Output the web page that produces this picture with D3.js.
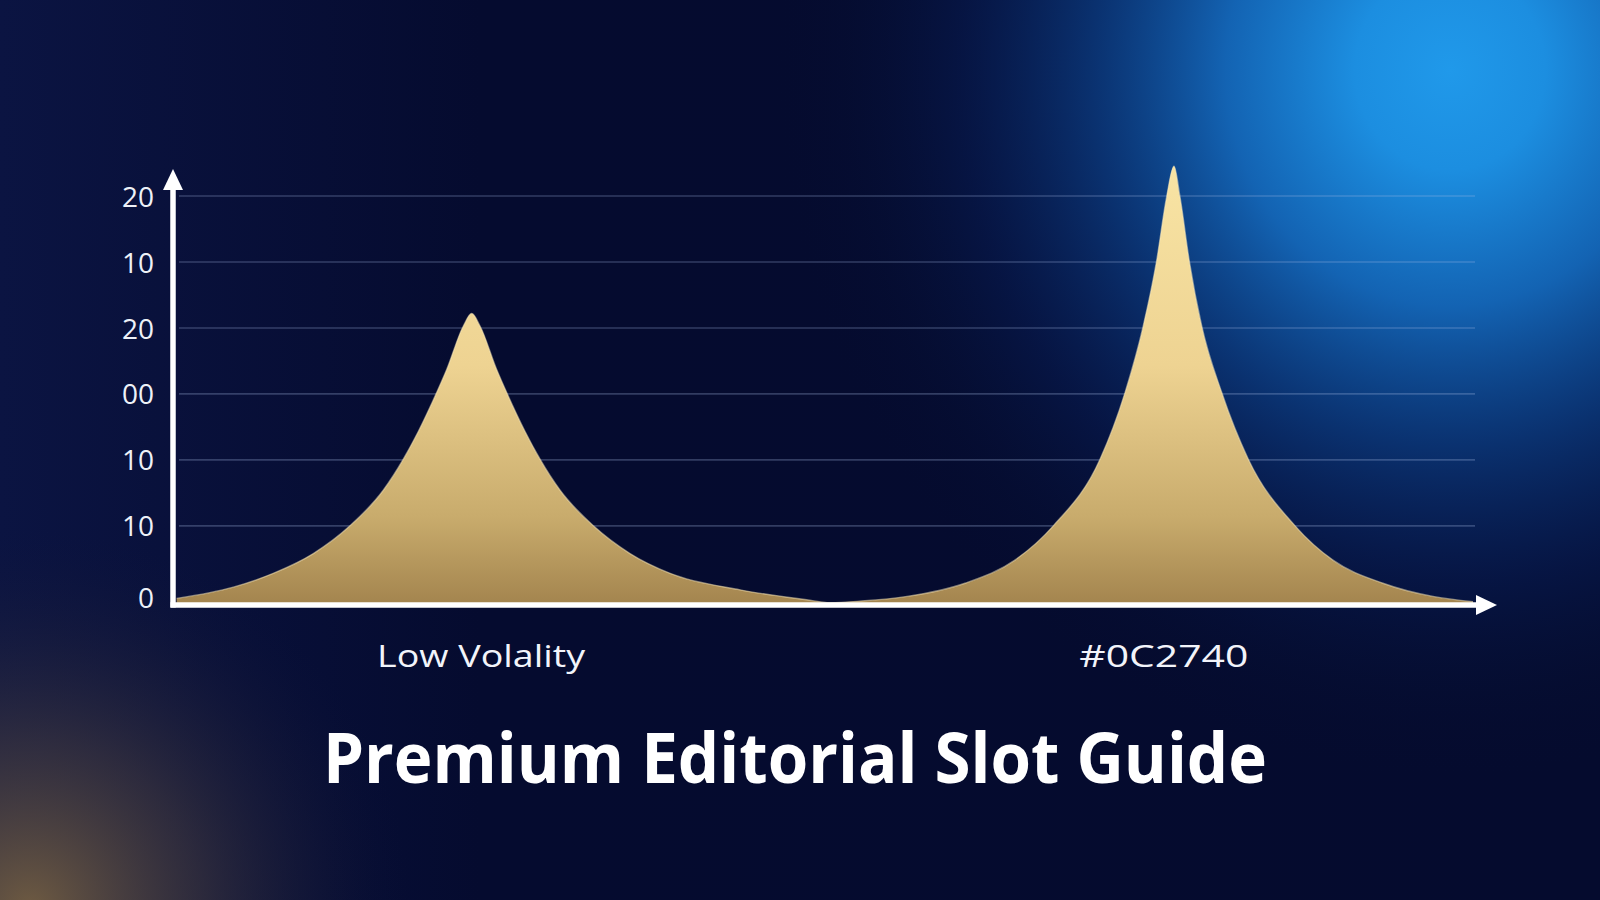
<!DOCTYPE html>
<html>
<head>
<meta charset="utf-8">
<script src="https://cdn.jsdelivr.net/npm/d3@7"></script>
<style>
  html, body { margin: 0; padding: 0; background: #050B2E; }
  svg { display: block; }
</style>
</head>
<body>
<svg id="chart" width="1600" height="900"></svg>
<script>
// ---- data ----
const xValues = [0.28, 4.63, 7.70, 10.78, 13.59, 16.15, 17.69, 18.84, 20.25, 21.02, 22.30, 22.94,
                 23.58, 24.86, 25.63, 27.04, 28.19, 29.73, 32.29, 35.10, 38.18, 43.55, 48.67, 50.46,
                 52.88, 56.38, 60.83, 64.66, 67.61, 71.20, 73.12, 74.52, 75.54, 76.32, 76.88,
                 77.34, 78.06, 79.01, 80.55, 82.59, 86.18, 89.09, 92.93, 96.77, 99.85];
const yValues = [0.10, 0.27, 0.48, 0.78, 1.20, 1.74, 2.21, 2.63, 3.22, 3.57, 4.23, 4.42,
                 4.23, 3.57, 3.22, 2.63, 2.21, 1.74, 1.20, 0.78, 0.48, 0.23, 0.08, 0.035,
                 0.06, 0.13, 0.33, 0.68, 1.20, 2.21, 3.22, 4.23, 5.21, 6.19, 6.65,
                 6.19, 5.21, 4.23, 3.22, 2.21, 1.20, 0.68, 0.33, 0.13, 0.05];
const tickValues = [0, 1.2, 2.2, 3.2, 4.2, 5.2, 6.2];
const tickLabels = ["0", "10", "10", "00", "20", "10", "20"];
const categoryNames = ["Low Volality", "#0C2740"];
const categoryPositions = [23.66, 76.1];
const title = "Premium Editorial Slot Guide";

// ---- setup ----
const svg = d3.select("#chart");
const W = 1600, H = 900;
const x = d3.scaleLinear().domain([0, 100]).range([173, 1475]);
const y = d3.scaleLinear().domain([0, 6.2]).range([605, 196]);

const defs = svg.append("defs");

// background gradients
const baseGrad = defs.append("linearGradient").attr("id", "baseGrad")
  .attr("x1", "0").attr("y1", "0").attr("x2", "1").attr("y2", "0");
baseGrad.append("stop").attr("offset", "0").attr("stop-color", "#0B1442");
baseGrad.append("stop").attr("offset", "0.3").attr("stop-color", "#050B2F");
baseGrad.append("stop").attr("offset", "1").attr("stop-color", "#050B2E");

const blueGlow = defs.append("radialGradient").attr("id", "blueGlow")
  .attr("gradientUnits", "userSpaceOnUse")
  .attr("cx", 1450).attr("cy", 70).attr("r", 680)
  .attr("gradientTransform", "translate(1450,70) scale(1,1.05) translate(-1450,-70)");
blueGlow.append("stop").attr("offset", "0").attr("stop-color", "#2099EA").attr("stop-opacity", 1);
blueGlow.append("stop").attr("offset", "0.14").attr("stop-color", "#1C8EE0").attr("stop-opacity", 1);
blueGlow.append("stop").attr("offset", "0.33").attr("stop-color", "#1468BA").attr("stop-opacity", 0.95);
blueGlow.append("stop").attr("offset", "0.52").attr("stop-color", "#0C4088").attr("stop-opacity", 0.75);
blueGlow.append("stop").attr("offset", "0.72").attr("stop-color", "#08225F").attr("stop-opacity", 0.42);
blueGlow.append("stop").attr("offset", "0.88").attr("stop-color", "#061640").attr("stop-opacity", 0.15);
blueGlow.append("stop").attr("offset", "1").attr("stop-color", "#050B2E").attr("stop-opacity", 0);

const warmGlow = defs.append("radialGradient").attr("id", "warmGlow")
  .attr("gradientUnits", "userSpaceOnUse")
  .attr("cx", 30).attr("cy", 910).attr("r", 380);
warmGlow.append("stop").attr("offset", "0").attr("stop-color", "#7A6342").attr("stop-opacity", 0.9);
warmGlow.append("stop").attr("offset", "0.45").attr("stop-color", "#4A3F3E").attr("stop-opacity", 0.55);
warmGlow.append("stop").attr("offset", "1").attr("stop-color", "#101535").attr("stop-opacity", 0);

svg.append("rect").attr("width", W).attr("height", H).attr("fill", "url(#baseGrad)");
svg.append("rect").attr("width", W).attr("height", H).attr("fill", "url(#blueGlow)");
svg.append("rect").attr("width", W).attr("height", H).attr("fill", "url(#warmGlow)");

// gold gradient for area
const gold = defs.append("linearGradient").attr("id", "gold")
  .attr("gradientUnits", "userSpaceOnUse")
  .attr("x1", 0).attr("y1", y(6.6)).attr("x2", 0).attr("y2", y(0));
gold.append("stop").attr("offset", "0").attr("stop-color", "#F8E4A4");
gold.append("stop").attr("offset", "0.45").attr("stop-color", "#EED392");
gold.append("stop").attr("offset", "0.8").attr("stop-color", "#C8AB6C");
gold.append("stop").attr("offset", "1").attr("stop-color", "#A3844E");

// gridlines
svg.append("g")
  .selectAll("line")
  .data(tickValues.slice(1))
  .join("line")
  .attr("x1", x(0) + 6).attr("x2", x(100))
  .attr("y1", d => y(d)).attr("y2", d => y(d))
  .attr("stroke", "#A9BEE6").attr("stroke-opacity", 0.28).attr("stroke-width", 1.6);

// area
const points = xValues.map((v, i) => ({ x: v, y: yValues[i] }));
const area = d3.area()
  .x(d => x(d.x)).y0(y(0)).y1(d => y(d.y))
  .curve(d3.curveMonotoneX);
const line = d3.line()
  .x(d => x(d.x)).y(d => y(d.y))
  .curve(d3.curveMonotoneX);

svg.append("path").datum(points)
  .attr("d", area)
  .attr("fill", "url(#gold)");
svg.append("path").datum(points)
  .attr("d", line)
  .attr("fill", "none")
  .attr("stroke", "#FBEBBD").attr("stroke-opacity", 0.5).attr("stroke-width", 1.4);

// y axis with labels
const yAxis = d3.axisLeft(y)
  .tickValues(tickValues)
  .tickFormat((d, i) => tickLabels[i])
  .tickSize(0)
  .tickPadding(19);
const gy = svg.append("g").attr("transform", `translate(${x(0)},0)`).call(yAxis);
gy.select(".domain").remove();
gy.selectAll("text")
  .attr("fill", "#EEF1F8")
  .style("font-family", "'Open Sans', 'Noto Sans', sans-serif")
  .style("font-size", "28px")
  .attr("dy", (d) => d === 0 ? "0.1em" : "0.36em");

// axis lines with arrows
const axisColor = "#FFFFFF";
svg.append("line")
  .attr("x1", x(0)).attr("x2", x(0))
  .attr("y1", y(0) + 2.5).attr("y2", 186)
  .attr("stroke", axisColor).attr("stroke-width", 5.5);
svg.append("path")
  .attr("d", `M${x(0) - 10},190 L${x(0)},169 L${x(0) + 10},190 Z`)
  .attr("fill", axisColor);
svg.append("line")
  .attr("x1", x(0) - 2.5).attr("x2", 1480)
  .attr("y1", y(0)).attr("y2", y(0))
  .attr("stroke", axisColor).attr("stroke-width", 5.5);
svg.append("path")
  .attr("d", `M1476,${y(0) - 10} L1497,${y(0)} L1476,${y(0) + 10} Z`)
  .attr("fill", axisColor);

// category labels
const catTargets = [208, 169];
svg.append("g").selectAll("text")
  .data(categoryNames)
  .join("text")
  .attr("x", (d, i) => x(categoryPositions[i]))
  .attr("y", 667)
  .attr("text-anchor", "middle")
  .attr("fill", "#F2F4FA")
  .style("font-family", "'Open Sans', 'Noto Sans', sans-serif")
  .style("font-size", "31px")
  .text(d => d)
  .attr("textLength", (d, i) => catTargets[i])
  .attr("lengthAdjust", "spacingAndGlyphs");

// title
const t = svg.append("text")
  .attr("x", 795).attr("y", 783)
  .attr("text-anchor", "middle")
  .attr("fill", "#FFFFFF")
  .style("font-family", "'Open Sans', 'Noto Sans', sans-serif")
  .style("font-weight", "700")
  .style("font-size", "70px")
  .text(title);
const tl = t.node().getComputedTextLength();
if (tl > 944) t.attr("textLength", 944).attr("lengthAdjust", "spacingAndGlyphs");
</script>
</body>
</html>
